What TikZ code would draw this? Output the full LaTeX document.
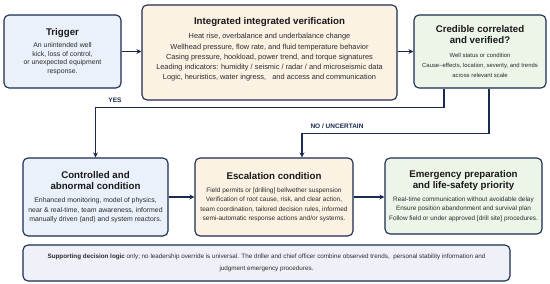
\documentclass[tikz,border=0pt]{standalone}
\usepackage{fontspec}
\setmainfont{Liberation Sans}
\definecolor{WellNavy}{HTML}{1B2A4F}
\definecolor{WellBlue}{HTML}{EAF1FA}
\definecolor{WellSand}{HTML}{FBF2E3}
\definecolor{WellSage}{HTML}{EDF4E8}
\definecolor{WellNote}{HTML}{EEF1F8}
\definecolor{WellText}{HTML}{2B2B2B}
\usetikzlibrary{arrows.meta, positioning, calc}
\newcommand{\boxtitle}[1]{{\fontsize{9.7}{11}\selectfont\bfseries\color{black!90}#1\par}\vspace{4pt}}

\begin{document}
\begin{tikzpicture}[
        box/.style={draw=WellNavy, rounded corners=5pt, align=flush center, line width=1.1pt, inner xsep=2pt, inner ysep=3pt, text=WellText, font=\fontsize{6.9}{9.4}\selectfont},
        arr/.style={-{Stealth[length=5pt, width=5pt]}, line width=1.4pt, WellNavy},
        lbl/.style={font=\fontsize{6.5}{7}\selectfont\bfseries, text=WellNavy},
        x=1pt, y=1pt
    ]
        \useasboundingbox (0,0) rectangle (550,-284);

        \node[box, fill=WellBlue, minimum width=117pt, minimum height=73pt, text width=112pt, font=\fontsize{6.9}{8.4}\selectfont] (trig) at (62.5, -51.5)
            {\boxtitle{Trigger}An unintended well\\kick, loss of control,\\or unexpected equipment\\response.};
        \node[box, fill=WellSand, minimum width=255pt, minimum height=95pt, text width=250pt, font=\fontsize{7.4}{10.2}\selectfont] (verif) at (269.5, -52.5)
            {\boxtitle{Integrated integrated verification}Heat rise, overbalance and underbalance change\\Wellhead pressure, flow rate, and fluid temperature behavior\\Casing pressure, hookload, power trend, and torque signatures\\Leading indicators: humidity / seismic / radar / and microseismic data\\Logic, heuristics, water ingress, \ \ and access and communication\vspace{6pt}};
        \node[box, fill=WellSage, minimum width=132pt, minimum height=73pt, text width=128pt, font=\fontsize{5.9}{9.8}\selectfont] (cred) at (480, -51.5)
            {\boxtitle{Credible correlated\\and verified?}Well status or condition\\Cause--effects, location, severity, and trends\\across relevant scale};

        \node[box, fill=WellBlue, minimum width=145pt, minimum height=78pt, text width=141pt] (ctrl) at (95.5, -197)
            {\boxtitle{Controlled and\\abnormal condition}Enhanced monitoring, model of physics,\\near \& real-time, team awareness, informed\\manually driven (and) and system reactors.};
        \node[box, fill=WellSand, minimum width=158pt, minimum height=78pt, text width=154pt, font=\fontsize{6.5}{9.4}\selectfont] (esc) at (274, -197)
            {\boxtitle{Escalation condition}Field permits or [drilling] bellwether suspension\\Verification of root cause, risk, and clear action,\\team coordination, tailored decision rules, informed\\semi-automatic response actions and/or systems.};
        \node[box, fill=WellSage, minimum width=157pt, minimum height=76pt, text width=153pt, font=\fontsize{6.4}{9.2}\selectfont] (emerg) at (463.5, -196)
            {\boxtitle{Emergency preparation\\and life-safety priority}Real-time communication without avoidable delay\\Ensure position abandonment and survival plan\\Follow field or under approved [drill site] procedures.};

        \node[box, fill=WellNote, minimum width=487pt, minimum height=36pt, text width=480pt, font=\fontsize{6.3}{11.5}\selectfont] (note) at (266.5, -263)
            {\textbf{Supporting decision logic} only; no leadership override is universal. The driller and chief officer combine observed trends, \ personal stability information and\\judgment emergency procedures.};

        \draw[arr] (trig.east) -- (trig.east -| verif.west);
        \draw[arr] (verif.east |- cred.west) -- (cred.west);
        \draw[arr] ([xshift=-36pt]cred.south) -- ++(0,-19) -| (ctrl.north);
        \draw[arr] ([xshift=9pt]cred.south) -- ++(0,-45) -| ([xshift=28pt]esc.north);
        \draw[arr] (ctrl.east) -- (esc.west);
        \draw[arr] (esc.east) -- (esc.east -| emerg.west);

        \node[lbl] (yes) at (115, -100) {YES};
        \node[lbl] (nounc) at (337, -126) {NO / UNCERTAIN};
    \end{tikzpicture}
\end{document}
